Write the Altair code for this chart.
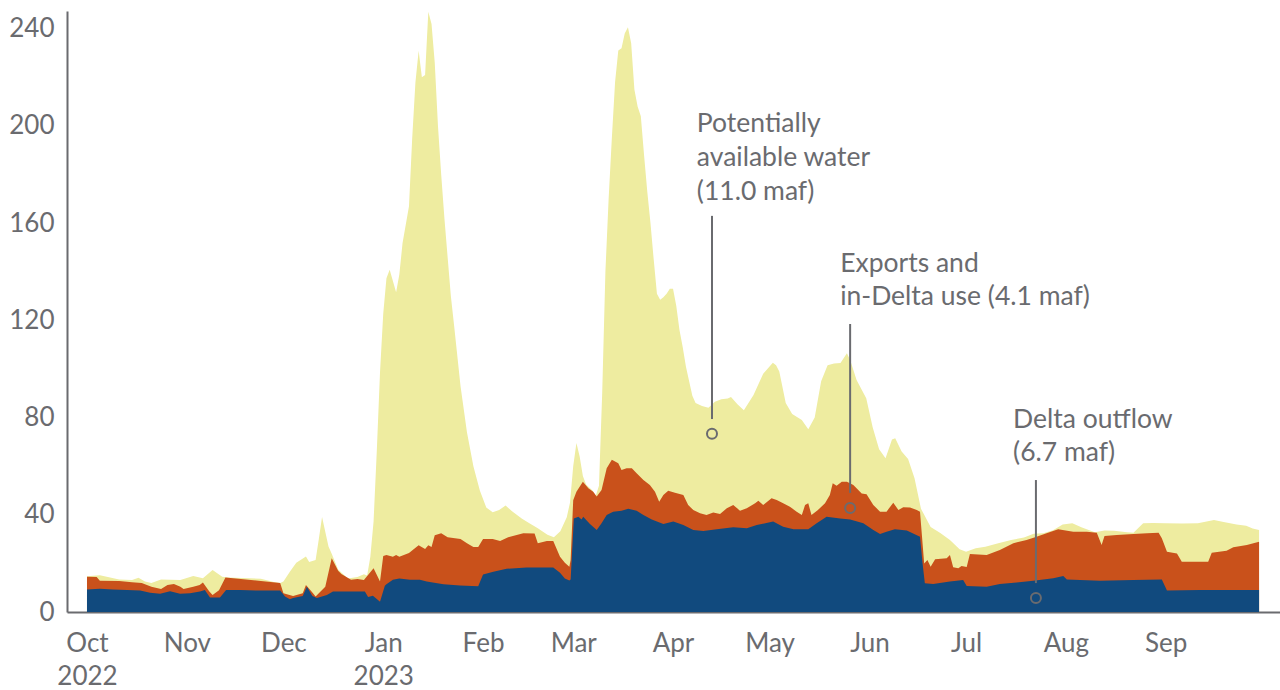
import altair as alt
import pandas as pd

BASE = pd.Timestamp("2022-10-01")

# Top of "Potentially available water" band (total), thousand cfs, by day of water year
TOTAL_DAY = [0, 4, 10, 14, 16, 18, 20, 23, 29, 33, 36, 39, 42, 44, 54, 58, 60, 61, 63, 65, 68, 69, 71, 72, 73,
             75, 76, 78, 81, 84, 86, 87, 88, 89, 90, 91, 92, 93, 94, 96, 97, 98, 100, 101, 102, 103, 104, 105,
             106, 107, 108, 109, 110, 111, 112, 113, 114, 116, 118, 120, 122, 124, 126, 128, 130, 132, 135,
             137, 140, 143, 145, 147, 149, 150, 151, 152, 153, 154, 155, 157, 158, 159, 160, 161, 162, 163,
             164, 165, 166, 167, 168, 169, 170, 171, 172, 173, 174, 175, 176, 177, 178, 179, 180, 181, 182,
             183, 184, 185, 186, 187, 188, 189, 191, 193, 195, 197, 199, 200, 202, 204, 207, 210, 213, 214,
             215, 217, 219, 222, 224, 226, 228, 230, 232, 234, 236, 237, 239, 242, 244, 246, 248, 250, 251,
             253, 255, 257, 259, 260, 262, 265, 268, 271, 273, 276, 279, 283, 287, 291, 294, 297, 300, 303,
             306, 309, 313, 316, 319, 323, 325, 328, 331, 335, 340, 345, 350, 353, 357, 360, 362, 364]
TOTAL_VAL = [14.7, 15.1, 13.4, 13.2, 14.1, 12.5, 11.9, 13.4, 13.2, 14.8, 13.9, 17.3, 14.5, 14.2, 13.7, 12.3,
             11.9, 12.5, 16.6, 20.3, 22.8, 20.6, 21.4, 30, 39.1, 27, 24, 17.5, 13.8, 14.4, 15.5, 15, 22.7,
             37.2, 66.3, 98.5, 122.7, 137.3, 140.8, 131.6, 138.9, 151.8, 167, 195, 218, 230.9, 220, 221, 247,
             242, 226, 200, 180, 162, 146, 130, 118, 93, 74, 60, 50, 43, 41, 42, 43.8, 41.5, 38.5, 36.8, 34.5,
             31.8, 30.8, 33.2, 39, 45, 60, 69.5, 64, 56, 52.5, 50, 47.8, 52, 90, 140, 170, 195, 218, 231, 232,
             238, 240.6, 234, 215, 208, 204, 188, 173, 160, 145, 131, 128.5, 129.5, 131, 133, 133, 126, 116,
             109, 101, 95, 89, 86, 84.8, 84, 86.5, 87.5, 87.8, 88.5, 85.5, 83, 89.3, 98, 102.6, 101.5, 99, 86,
             81.5, 79, 75.2, 80, 95, 101.5, 102.3, 102.5, 106.5, 103.7, 95.5, 88, 76, 67, 63.3, 71, 71.5, 66,
             63, 55, 42.5, 40, 35, 32.5, 29.6, 25.8, 24.8, 26.2, 26.9, 28.3, 29.6, 30.7, 32.2, 32.4, 33.6, 36,
             36.5, 34.8, 32.8, 33.5, 33.4, 32.8, 32.6, 36.5, 36.6, 36.5, 36.4, 36.5, 37.9, 37, 36, 35.5, 34.4,
             33.7]

# Top of "Exports and in-Delta use" band (outflow + exports)
EXPORT_DAY = [0, 3, 4, 10, 14, 17, 20, 23, 25, 27, 29, 30, 33, 35, 36, 38, 39, 41, 43, 47, 54, 60, 61, 64, 67,
              68, 70, 71, 74, 76, 78, 79, 82, 84, 86, 89, 91, 92, 93, 95, 96, 97, 100, 103, 105, 106, 107, 108,
              110, 112, 116, 118, 120, 121.5, 123, 126, 128.3, 130.8, 135.5, 139, 140, 142.8, 144.8, 146.9,
              148.4, 149.8, 150.2, 151, 152, 154, 155.7, 157.2, 158.3, 159.8, 161.4, 163, 165, 166, 167.6,
              169.2, 170.7, 172.8, 174.8, 176.4, 177.7, 179, 180.5, 182.6, 185.2, 186.7, 188.3, 190.4, 192.4,
              194.5, 196.6, 198.7, 200.7, 202.8, 204.9, 207.5, 208.5, 210, 212.6, 214.2, 216.2, 218.3, 220.4,
              222, 223, 224, 225, 227, 229.2, 230.7, 231.6, 232.8, 234.4, 236, 238, 240.6, 242.1, 244.2, 246.3,
              248.3, 250.4, 252, 253.5, 255.6, 257.7, 258.7, 260, 261, 262, 263.4, 267, 268, 269, 270.6, 271.6,
              273.2, 274.2, 279.4, 283.5, 287.7, 291.8, 294.9, 298, 301.6, 306.3, 310.5, 313.6, 315.1, 316,
              319.8, 325, 329.2, 332.8, 333.8, 335.4, 338.5, 340, 348.2, 349.3, 353.9, 356, 360.2, 364]
EXPORT_VAL = [14.5, 14.4, 12.9, 12.8, 12.2, 11.9, 10.4, 9.5, 11.1, 11.5, 10.4, 9.5, 10.4, 11.1, 12.1, 8.4, 7, 9,
              14.2, 13.7, 12.8, 11.9, 7.7, 6.6, 7.7, 11.1, 8.0, 6.4, 10.4, 22.1, 17, 15.6, 13.3, 13.6, 13.2, 18,
              12.6, 23, 23.5, 22.7, 23.5, 22.7, 24.3, 27.5, 25.9, 27.5, 26.7, 31.6, 32.4, 30.8, 30, 28.3, 26.7,
              26.7, 30, 30, 29.2, 30.8, 32.4, 32.3, 28.3, 29.2, 29.2, 22.7, 20.3, 18.6, 21.4, 46, 49.5, 53.6,
              50.9, 49.5, 47.5, 50.2, 59.1, 62.6, 61.2, 58.4, 59.1, 59.1, 57.1, 54.3, 52.3, 49.5, 45.4, 48.1,
              49.9, 49.1, 48.1, 44, 42, 40.6, 39.9, 40.9, 40.3, 42.7, 44, 41.7, 42.7, 44.7, 45.8, 44, 46.8, 46.1,
              44.7, 43.3, 41.3, 39.9, 44, 44.7, 39.9, 42, 44.7, 48.1, 53, 51.9, 53.6, 53.6, 52.3, 48.8, 48.5, 44,
              41.3, 41.3, 45, 42, 43.1, 43, 42, 41.3, 20, 21.4, 18.6, 21.7, 22.1, 23.5, 18.4, 18, 18.9, 18.5,
              23.9, 23.5, 25.5, 28.3, 29.6, 31, 32.4, 34, 33, 33, 32.6, 27.6, 31.3, 31.7, 32.1, 32.4, 32.6, 30.3,
              24.8, 24.1, 20.7, 20.7, 24.4, 25.2, 26.6, 27.6, 28.9]

# Top of "Delta outflow" band
OUTFLOW_DAY = [0, 4, 8, 12.4, 16.5, 19.6, 22.7, 25.8, 28.9, 32, 35.1, 36.6, 38.2, 41.3, 43.2, 47.5, 53.7, 60,
               61.5, 63, 64, 67, 68.3, 70, 71.4, 74.5, 76.4, 86.3, 87.3, 88.8, 91, 92.5, 93, 95, 97, 100.3,
               103.4, 105.5, 110.7, 115.8, 121.5, 123, 126.2, 130.3, 136.5, 144.8, 146.9, 148.4, 149.8, 150.2,
               151.2, 152.6, 153.6, 154.1, 156.2, 158.3, 159.8, 161.4, 163.4, 166, 168.1, 170.7, 172.8, 175.4,
               179, 182.1, 185.2, 188.3, 191.4, 195.6, 200.7, 204.9, 208, 213.1, 216.2, 219.4, 224, 226.6,
               229.7, 233.9, 237, 241.1, 244.2, 246.3, 248.3, 250.9, 254.6, 258.7, 259.5, 260.2, 262.8, 268,
               272.1, 273.2, 279.4, 283.5, 288.7, 293.9, 300.1, 303.2, 304.3, 314.6, 325, 333.8, 335.4, 345.7,
               364]
OUTFLOW_VAL = [9.3, 9.6, 9.3, 9.1, 8.8, 7.9, 7.5, 8.5, 7.5, 7.7, 8.4, 9.1, 6, 6, 9.1, 9.1, 8.8, 8.8, 6.4, 5.2,
               5.8, 6.6, 10.4, 6.6, 5.8, 7, 8.4, 8.4, 6.2, 6.7, 4.2, 10.8, 11.4, 13.3, 13.8, 13.3, 13.3, 12.5,
               11.4, 10.9, 10.6, 15.4, 16.6, 17.8, 18.3, 18.3, 16.2, 13.8, 13, 13.4, 38.5, 39.2, 38.1, 39.2,
               36.2, 33.7, 36.5, 39.9, 41.3, 41.7, 42.5, 41.7, 39.9, 38.1, 36.2, 37.2, 35.8, 33.7, 33.3, 34,
               34.9, 34.5, 35.8, 37.2, 35.1, 34, 34, 36.5, 39.2, 38.5, 38.1, 36.5, 33.7, 32.1, 33, 34, 33.5, 31,
               20, 11.8, 11.5, 12.5, 13.2, 10.7, 10.4, 11.5, 12.1, 12.9, 13.9, 14.8, 13.4, 12.9, 13.2, 13.4, 8.8,
               9.1, 9.1]

# Annotations (day of water year, value, text)
NOTE_DAY = [189.4, 189.4, 189.4, 233.9, 233.9, 287.6, 287.6]
NOTE_VAL = [197.5, 183.5, 169.5, 139.9, 126.3, 75.7, 62.2]
NOTE_TXT = ["Potentially", "available water", "(11.0 maf)", "Exports and", "in-Delta use (4.1 maf)",
            "Delta outflow", "(6.7 maf)"]
LEAD_DAY = [194.1, 237.0, 294.7]
LEAD_TOP = [163.0, 118.5, 54.3]
LEAD_BOT = [79.4, 49.0, 11.9]
LEAD_DOT = [73.3, 42.8, 5.8]

BLUE = "#114a7e"
ORANGE = "#c9511b"
YELLOW = "#eeeca0"
GREY = "#6a6b6f"
FONT = "Lato"


def to_dates(days):
    return [BASE + pd.Timedelta(days=d) for d in days]


total = pd.DataFrame({"date": to_dates(TOTAL_DAY), "v": TOTAL_VAL})
exports = pd.DataFrame({"date": to_dates(EXPORT_DAY), "v": EXPORT_VAL})
outflow = pd.DataFrame({"date": to_dates(OUTFLOW_DAY), "v": OUTFLOW_VAL})
notes = pd.DataFrame({"date": to_dates(NOTE_DAY), "v": NOTE_VAL, "t": NOTE_TXT})
leads = pd.DataFrame({"date": to_dates(LEAD_DAY), "v": LEAD_TOP, "v2": LEAD_BOT, "dot": LEAD_DOT})

xscale = alt.Scale(domain=[alt.DateTime(year=2022, month=9, date=24, hours=19),
                           alt.DateTime(year=2023, month=10, date=6, hours=12)])
yscale = alt.Scale(domain=[0, 247.3], nice=False, zero=True)

month_vals = [alt.DateTime(year=2022, month=m, date=1) for m in (10, 11, 12)] + \
             [alt.DateTime(year=2023, month=m, date=1) for m in range(1, 10)]

xaxis = alt.Axis(
    title=None, values=month_vals, ticks=False, grid=False,
    labelExpr="[timeFormat(datum.value, '%b'), (month(datum.value) == 9 || month(datum.value) == 0) ? timeFormat(datum.value, '%Y') : '']",
    labelFont=FONT, labelFontSize=26, labelColor=GREY, labelPadding=18, labelLineHeight=33,
    labelAlign="center", labelFlush=False, labelOverlap=False,
    domainColor=GREY, domainWidth=2,
)
yaxis = alt.Axis(
    title=None, values=[0, 40, 80, 120, 160, 200, 240], ticks=False, grid=False,
    labelFont=FONT, labelFontSize=26, labelColor=GREY, labelPadding=13,
    domainColor=GREY, domainWidth=2,
)

X = alt.X("date:T", scale=xscale, axis=xaxis)
Y = alt.Y("v:Q", scale=yscale, axis=yaxis)

a_total = alt.Chart(total).mark_area(color=YELLOW, interpolate="linear").encode(x=X, y=Y)
a_exp = alt.Chart(exports).mark_area(color=ORANGE, interpolate="linear").encode(x=X, y=Y)
a_out = alt.Chart(outflow).mark_area(color=BLUE, interpolate="linear").encode(x=X, y=Y)

txt = alt.Chart(notes).mark_text(
    align="left", baseline="alphabetic", font=FONT, fontSize=26.5, color=GREY
).encode(x=X, y=Y, text="t:N")

rules = alt.Chart(leads).mark_rule(color=GREY, strokeWidth=2).encode(x=X, y=Y, y2="v2:Q")
dots = alt.Chart(leads).mark_point(
    shape="circle", filled=False, size=100, strokeWidth=2, color=GREY, opacity=1
).encode(x=X, y=alt.Y("dot:Q", scale=yscale, axis=yaxis))

chart = alt.layer(a_total, a_exp, a_out, rules, dots, txt).properties(
    width=1213, height=601,
    autosize=alt.AutoSizeParams(type="none"),
    padding={"left": 67, "top": 11, "right": 0, "bottom": 78},
    background="white",
).configure_view(stroke=None)

chart.save("out.html", embed_options={"renderer": "svg", "actions": False})
